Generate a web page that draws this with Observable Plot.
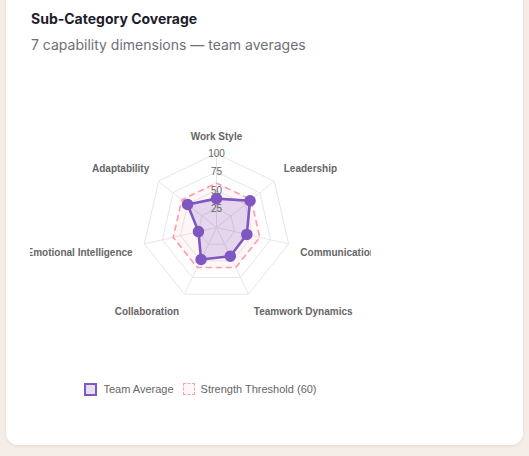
<!DOCTYPE html>
<html>
<head>
<meta charset="utf-8">
<script src="https://cdn.jsdelivr.net/npm/d3@7"></script>
<script src="https://cdn.jsdelivr.net/npm/@observablehq/plot@0.6"></script>
<style>
  html, body { margin: 0; padding: 0; }
  body { width: 529px; height: 456px; background: #f4ede8; position: relative; overflow: hidden; font-family: Inter, "Noto Sans", sans-serif; }
  .card { position: absolute; left: 6px; top: -20px; width: 517px; height: 465px; background: #fff; border-radius: 12px; box-shadow: 0 1px 3px rgba(120,90,70,0.12); }
  .title { position: absolute; left: 31px; top: 9px; font-size: 14px; line-height: 20px; font-weight: 700; color: #1c1c2b; white-space: nowrap; }
  .subtitle { position: absolute; left: 31px; top: 35px; font-size: 14px; line-height: 20px; color: #6e7079; white-space: nowrap; }
  #chart { position: absolute; left: 30px; top: 100px; width: 341px; height: 240px; overflow: hidden; }
  #chart svg { overflow: hidden; }
  .legend { position: absolute; left: 30px; top: 381px; width: 341px; display: flex; justify-content: center; gap: 9px; font-family: "Liberation Sans", Arial, sans-serif; font-size: 11px; color: #666; }
  .item { display: flex; align-items: center; gap: 6px; height: 16px; }
  .sw { width: 9px; height: 9px; box-sizing: content-box; }
</style>
</head>
<body>
<div class="card"></div>
<div class="title">Sub-Category Coverage</div>
<div class="subtitle">7 capability dimensions — team averages</div>
<div id="chart"></div>
<div class="legend" id="legend"></div>
<script>
const categories = ["Work Style", "Leadership", "Communication", "Teamwork Dynamics", "Collaboration", "Emotional Intelligence", "Adaptability"];
const teamAverage = [39, 58, 42, 43, 48, 25, 50];
const threshold = [60, 60, 60, 60, 60, 60, 60];
const tickValues = [25, 50, 75, 100];
const seriesNames = ["Team Average", "Strength Threshold (60)"];

const n = categories.length;
const maxV = 100;
const ang = i => i * 2 * Math.PI / n;
const pt = (i, v) => ({x: (v / maxV) * Math.sin(ang(i)), y: (v / maxV) * Math.cos(ang(i))});

const rings = tickValues.flatMap(t => categories.map((c, i) => ({ring: t, ...pt(i, t)})));
const spokes = categories.map((c, i) => ({x1: 0, y1: 0, x2: pt(i, maxV).x, y2: pt(i, maxV).y}));
const teamPts = teamAverage.map((v, i) => ({cat: categories[i], v, ...pt(i, v)}));
const threshPts = threshold.map((v, i) => ({cat: categories[i], v, ...pt(i, v)}));
const labelR = maxV * 86 / 74;
const labels = categories.map((c, i) => {
  const p = pt(i, labelR);
  const s = Math.sin(ang(i)), co = Math.cos(ang(i));
  return {
    name: c, ...p,
    anchor: Math.abs(s) < 1e-6 ? "middle" : (s > 0 ? "start" : "end"),
    line: co > 1e-6 ? "bottom" : (co < -1e-6 ? "top" : "middle")
  };
});
const ticks = tickValues.map(t => ({t, x: 0, y: t / maxV}));

const groups = d3.groups(labels, d => d.anchor + "|" + d.line);
const labelMarks = groups.map(([k, arr]) => Plot.text(arr, {
  x: "x", y: "y", text: "name",
  textAnchor: arr[0].anchor, lineAnchor: arr[0].line,
  dy: arr[0].line === "bottom" ? -2 : (arr[0].line === "top" ? 2.5 : 0),
  fontSize: 10, fontWeight: "bold", fill: "#666",
  fontFamily: "Liberation Sans, Arial, sans-serif"
}));

const W = 341, H = 240, R = 74, cx = 186, cy = 127;
const chart = Plot.plot({
  width: W, height: H,
  marginLeft: cx - R, marginRight: W - cx - R,
  marginTop: cy - R, marginBottom: H - cy - R,
  x: {domain: [-1, 1], axis: null},
  y: {domain: [-1, 1], axis: null},
  style: {background: "transparent", overflow: "hidden"},
  marks: [
    Plot.line(rings, {x: "x", y: "y", z: "ring", curve: "linear-closed", stroke: "#e6e6e6", strokeWidth: 1}),
    Plot.link(spokes, {x1: "x1", y1: "y1", x2: "x2", y2: "y2", stroke: "#e6e6e6", strokeWidth: 1}),
    Plot.line(threshPts, {x: "x", y: "y", curve: "linear-closed", fill: "rgba(255,99,132,0.06)", stroke: "#ff9aa8", strokeWidth: 1.6, strokeDasharray: "5,5"}),
    Plot.line(teamPts, {x: "x", y: "y", curve: "linear-closed", fill: "rgba(126,87,194,0.2)", stroke: "#7e57c2", strokeWidth: 2.6}),
    Plot.dot(teamPts, {x: "x", y: "y", r: 5, fill: "#7e57c2", stroke: "#7e57c2"}),
    Plot.text(ticks, {x: "x", y: "y", text: d => String(d.t), fontSize: 10, fill: "#666", fontFamily: "Liberation Sans, Arial, sans-serif"}),
    ...labelMarks
  ]
});
document.getElementById("chart").appendChild(chart);

const legend = document.getElementById("legend");
legend.innerHTML = `
  <div class="item"><div class="sw" style="border:2px solid #7e57c2;background:rgba(126,87,194,0.2)"></div><span>${seriesNames[0]}</span></div>
  <div class="item"><div class="sw" style="border:1.5px dashed #ffa0ad;background:rgba(255,99,132,0.06);width:10px;height:10px"></div><span>${seriesNames[1]}</span></div>`;
</script>
</body>
</html>
